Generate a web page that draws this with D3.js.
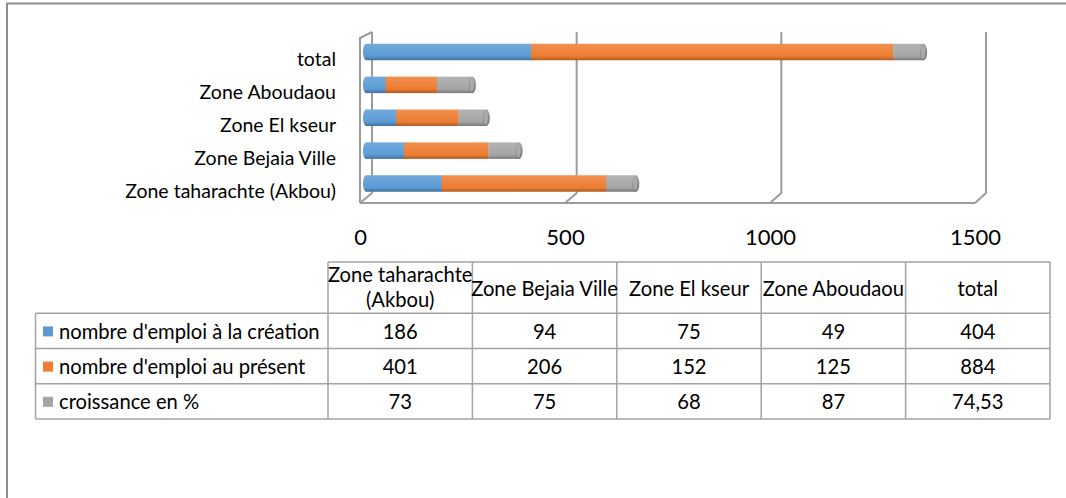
<!DOCTYPE html>
<html><head><meta charset="utf-8">
<script src="https://cdn.jsdelivr.net/npm/d3@7"></script>
<style>
body{margin:0;background:#fff;}
svg{display:block;}
text{font-family:Lato,'Open Sans',sans-serif;fill:#000;}
</style>
</head><body>
<svg id="chart" width="1066" height="498"></svg>
<script>
// ---- data ----
const categories = ["Zone taharachte (Akbou)", "Zone Bejaia Ville", "Zone El kseur", "Zone Aboudaou", "total"];
const seriesNames = ["nombre d'emploi à la création", "nombre d'emploi au présent", "croissance en %"];
const creation = [186, 94, 75, 49, 404];
const present = [401, 206, 152, 125, 884];
const croissance = [73, 75, 68, 87, 74.53];
const tickValues = [0, 500, 1000, 1500];
const seriesColors = ["#5B9BD5", "#ED7D31", "#A5A5A5"];

// ---- setup ----
const svg = d3.select("#chart");
const gridColor = "#9c9c9c";
const locale = d3.formatLocale({decimal: ",", thousands: " ", grouping: [3], currency: ["", " €"]});
const fmt = locale.format("~g");

// outer frame
svg.append("rect").attr("x", 7).attr("y", 3.5).attr("width", 1080).attr("height", 520)
  .attr("fill", "none").attr("stroke", "#8e8e8e").attr("stroke-width", 2);

// gradients
const defs = svg.append("defs");
seriesColors.forEach((c, i) => {
  const g = defs.append("linearGradient").attr("id", "grad" + i)
    .attr("x1", 0).attr("y1", 0).attr("x2", 0).attr("y2", 1);
  const base = d3.color(c);
  g.append("stop").attr("offset", "0%").attr("stop-color", d3.interpolateRgb(c, "#fff")(0.15));
  g.append("stop").attr("offset", "35%").attr("stop-color", d3.interpolateRgb(c, "#fff")(0.08));
  g.append("stop").attr("offset", "75%").attr("stop-color", c);
  g.append("stop").attr("offset", "100%").attr("stop-color", base.darker(0.9));
});
const capGrad = defs.append("linearGradient").attr("id", "capGrad")
  .attr("x1", 0).attr("y1", 0).attr("x2", 0).attr("y2", 1);
capGrad.append("stop").attr("offset", "0%").attr("stop-color", "#a8a8a8");
capGrad.append("stop").attr("offset", "100%").attr("stop-color", "#6f6f6f");

// scales
const xBack = d3.scaleLinear().domain([0, 1500]).range([372, 986]);
const depthDx = -12, depthDy = 10;
const xFront = d3.scaleLinear().domain([0, 1500]).range([372 + depthDx, 986 + depthDx + 1]);
const xBar = d3.scaleLinear().domain([0, 1500]).range([365.5, 980]);
const order = categories.slice().reverse();
const yBar = d3.scalePoint().domain(order).range([52, 183.5]);
const yLabel = d3.scalePoint().domain(order).range([59.5, 191]);
const barH = 16.5;
const wallTop = 32, floorBack = 193, floorFront = floorBack + depthDy;

// ---- 3D frame ----
const frame = svg.append("g").attr("fill", "none").attr("stroke", gridColor).attr("stroke-width", 2)
  .attr("stroke-linejoin", "round");
tickValues.forEach(v => {
  frame.append("path").attr("d",
    `M${xBack(v)},${wallTop}L${xBack(v)},${floorBack}L${xFront(v)},${floorFront}`);
});
frame.append("line").attr("x1", xFront(0)).attr("x2", xFront(1500))
  .attr("y1", floorFront).attr("y2", floorFront);
frame.append("path").attr("d",
  `M${xFront(0)},${floorFront}L${xFront(0)},${wallTop + 6}L${xBack(0)},${wallTop}`);

// ---- bars ----
const rows = categories.map((c, i) => ({cat: c, s0: creation[i], s1: present[i], s2: croissance[i]}));
const stack = d3.stack().keys(["s0", "s1", "s2"]);
const stacked = stack(rows);
const barsG = svg.append("g");
stacked.forEach((layer, si) => {
  layer.forEach(d => {
    const cy = yBar(d.data.cat);
    if (si === 0) {
      barsG.append("ellipse").attr("cx", xBar(d[0]) + 0.5).attr("cy", cy)
        .attr("rx", 3).attr("ry", barH / 2).attr("fill", `url(#grad${si})`);
    }
    barsG.append("rect").attr("x", xBar(d[0]) + (si === 0 ? 0.5 : 0)).attr("y", cy - barH / 2)
      .attr("width", xBar(d[1]) - xBar(d[0]) + 0.3).attr("height", barH)
      .attr("fill", `url(#grad${si})`);
    if (si === stacked.length - 1) {
      barsG.append("ellipse").attr("cx", xBar(d[1])).attr("cy", cy)
        .attr("rx", 3.5).attr("ry", barH / 2).attr("fill", "url(#capGrad)");
      barsG.append("ellipse").attr("cx", xBar(d[1]) - 0.6).attr("cy", cy)
        .attr("rx", 2.2).attr("ry", barH / 2 - 1.2).attr("fill", "#a9a9a9");
    }
  });
});

// ---- axes ----
const xAxis = d3.axisBottom(xFront).tickValues(tickValues).tickSize(0).tickPadding(0).tickFormat(d3.format("d"));
const gx = svg.append("g").attr("transform", "translate(0,229)").call(xAxis);
gx.select(".domain").remove();
gx.selectAll("text").style("font-size", "22px").style("font-family", "Lato,'Open Sans',sans-serif").attr("fill", "#000");

const yAxis = d3.axisLeft(yLabel).tickSize(0).tickPadding(0);
const gy = svg.append("g").attr("transform", "translate(336,0)").call(yAxis);
gy.select(".domain").remove();
gy.selectAll("text").style("font-size", "19.5px").style("font-family", "Lato,'Open Sans',sans-serif").attr("fill", "#000");

// ---- data table ----
const tableLeft = 35.5, tableRight = 1050;
const colX = d3.scaleBand().domain(categories).range([328, tableRight]);
const headTop = 262, headBottom = 313.3, rowH = 35.2;
const rowY = d3.scaleBand().domain(seriesNames).range([headBottom, headBottom + rowH * 3]);
const tableBottom = headBottom + rowH * 3;
const tg = svg.append("g");
const lines = tg.append("g").attr("stroke", "#a3a3a3").attr("stroke-width", 1.5).attr("fill", "none");
lines.append("line").attr("x1", 328).attr("x2", tableRight).attr("y1", headTop).attr("y2", headTop);
seriesNames.forEach(s => {
  lines.append("line").attr("x1", tableLeft).attr("x2", tableRight).attr("y1", rowY(s)).attr("y2", rowY(s));
});
lines.append("line").attr("x1", tableLeft).attr("x2", tableRight).attr("y1", tableBottom).attr("y2", tableBottom);
lines.append("line").attr("x1", tableLeft).attr("x2", tableLeft).attr("y1", headBottom).attr("y2", tableBottom);
categories.forEach(c => {
  lines.append("line").attr("x1", colX(c)).attr("x2", colX(c)).attr("y1", headTop).attr("y2", tableBottom);
});
lines.append("line").attr("x1", tableRight).attr("x2", tableRight).attr("y1", headTop).attr("y2", tableBottom);

const fs = "20.2px";
categories.forEach(c => {
  const cx = colX(c) + colX.bandwidth() / 2;
  const t = tg.append("text").attr("text-anchor", "middle").style("font-size", fs).attr("x", cx);
  t.text(c);
  const w = t.node().getComputedTextLength();
  if (w > colX.bandwidth() + 8) {
    const words = c.split(" ");
    const l2 = words.pop();
    t.text(null);
    const lh = 24.5;
    const midY = (headTop + headBottom) / 2;
    t.append("tspan").attr("x", cx).attr("y", midY - lh / 2).attr("dy", "0.35em").text(words.join(" "));
    t.append("tspan").attr("x", cx).attr("y", midY + lh / 2).attr("dy", "0.35em").text(l2);
  } else {
    t.attr("y", (headTop + headBottom) / 2 + 1).attr("dy", "0.35em");
  }
});
const seriesData = [creation, present, croissance];
seriesNames.forEach((s, si) => {
  const cy = rowY(s) + rowH / 2 + 1;
  tg.append("rect").attr("x", 43).attr("y", cy - 5.5).attr("width", 10).attr("height", 10)
    .attr("fill", seriesColors[si]);
  tg.append("text").attr("x", 59).attr("y", cy).attr("dy", "0.35em").style("font-size", fs).text(s);
  categories.forEach((c, ci) => {
    tg.append("text").attr("x", colX(c) + colX.bandwidth() / 2).attr("y", cy).attr("dy", "0.35em")
      .attr("text-anchor", "middle").style("font-size", fs).text(fmt(seriesData[si][ci]));
  });
});
</script>
</body></html>
